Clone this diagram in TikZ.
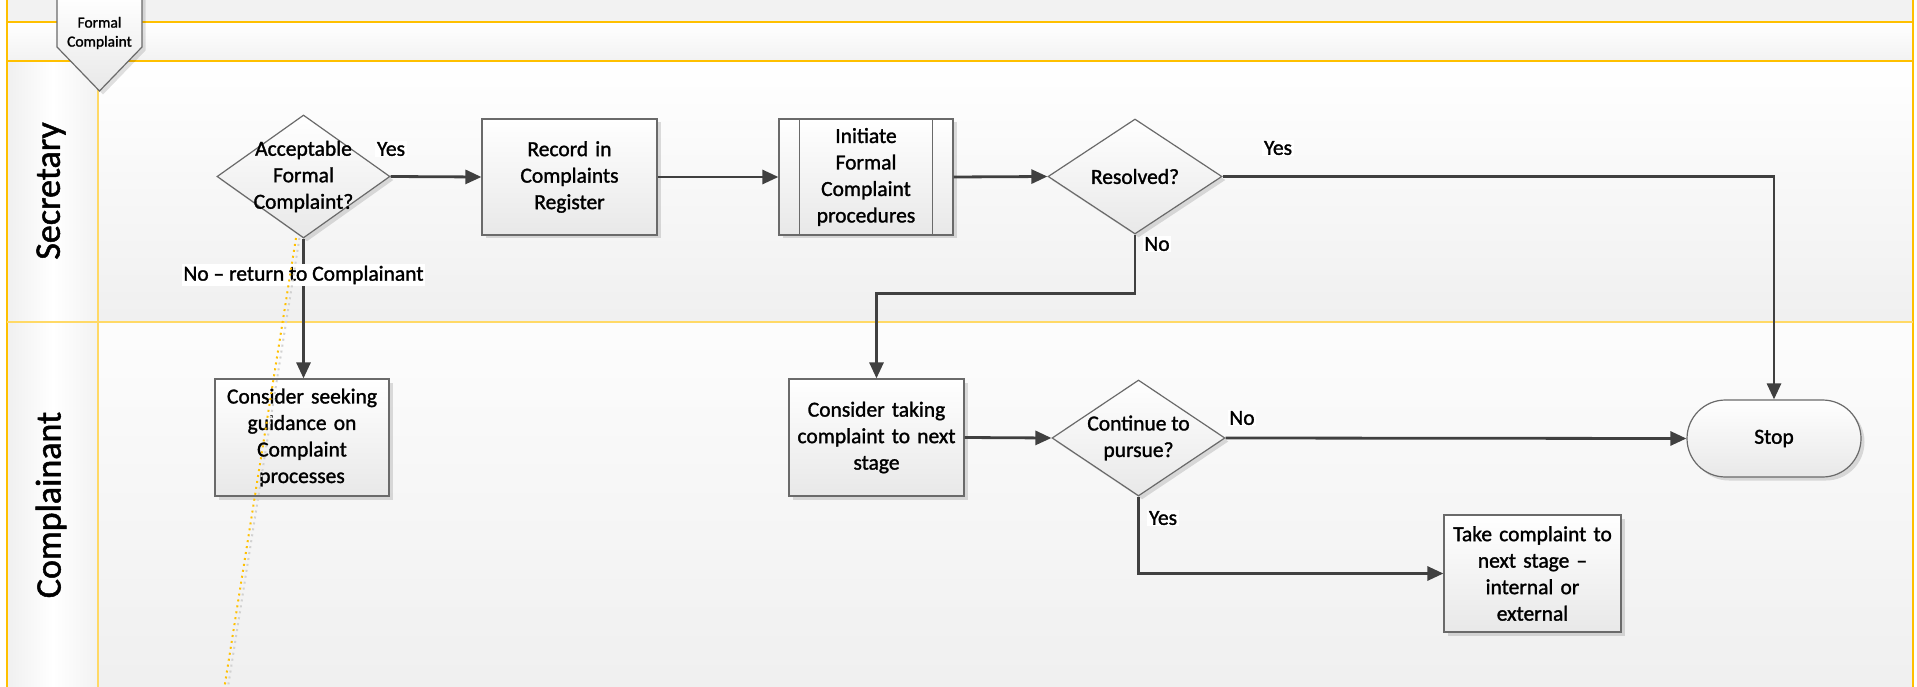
\documentclass[tikz,border=0pt]{standalone}
\usepackage{fontspec}
\setmainfont{Carlito}[FakeBold=1.4]
\usetikzlibrary{arrows.meta,shapes.geometric,shapes.misc,shadows}
\definecolor{lanegold}{HTML}{FFC000}
\definecolor{lanelight}{HTML}{FFD966}
\definecolor{arrowgray}{HTML}{404040}
\definecolor{edgegray}{HTML}{6A6A6A}
\tikzset{
  shapebox/.style={draw=edgegray, line width=1.2pt, top color=white, bottom color=black!9,
    drop shadow={shadow xshift=3.5pt, shadow yshift=-3.5pt, fill=black, opacity=0.13},
    align=center, inner sep=0pt},
  procbox/.style={shapebox, rectangle, text width=165pt, minimum width=175pt, minimum height=116pt},
  decision/.style={shapebox, diamond, inner sep=-30pt},
  terminal/.style={shapebox, rounded rectangle, minimum width=174pt, minimum height=77pt},
  flow/.style={draw=arrowgray, line width=2.8pt, -{Triangle[length=16pt,width=14pt]}},
  flowlabel/.style={fill=white, inner sep=1.5pt},
  lanetitle/.style={rotate=90, font=\fontsize{36}{42}\selectfont},
}
\begin{document}
\begin{tikzpicture}[x=1pt, y=-1pt, font=\fontsize{21.5}{26.5}\selectfont]
\useasboundingbox (0,0) rectangle (1917,687);
% backgrounds
\fill[black!5] (7,0) rectangle (1913,22);
\shade[top color=white, bottom color=black!5] (7,22) rectangle (1913,61);
\shade[top color=white, bottom color=black!6] (98,61) rectangle (1913,322);
\shade[top color=black!1, bottom color=black!6] (98,322) rectangle (1913,687);
\shade[left color=black!6, right color=black!5, middle color=white] (7,61) rectangle (98,322);
\shade[left color=black!6, right color=black!5, middle color=white] (7,322) rectangle (98,687);
% lane lines
\draw[lanegold, line width=2pt] (7,22) -- (1913,22);
\draw[lanegold, line width=2pt] (7,61) -- (1913,61);
\draw[lanegold, line width=2.4pt] (1913,0) -- (1913,687);
\draw[lanegold, line width=1.3pt] (7,0) -- (7,687);
\draw[lanelight, line width=1.3pt] (98,61) -- (98,687);
\draw[lanelight, line width=1.3pt] (7,322) -- (1913,322);
% lane titles
\node[lanetitle] (sec) at (51,191) {Secretary};
\node[lanetitle] (cmp) at (51,505) {Complainant};
% off-page connector
\fill[black, opacity=0.12] (60.5,-5) -- (60.5,50.5) -- (103,94.5) -- (145.5,50.5) -- (145.5,-5) -- cycle;
\draw[edgegray, line width=1.2pt, top color=white, bottom color=black!9] (57,-5) -- (57,47) -- (99.5,91) -- (142,47) -- (142,-5) -- cycle;
\node[align=center, font=\fontsize{15.5}{19}\selectfont] (fc) at (99.5,33) {Formal\\Complaint};
% nodes
\node[decision, minimum width=173pt, minimum height=123pt] (acc) at (303.5,176.5) {Acceptable\\Formal\\Complaint?};
\node[procbox] (rec) at (569.5,177) {Record in\\Complaints\\Register};
\node[procbox, minimum width=174pt] (proc) at (866,177) {Initiate\\Formal\\Complaint\\procedures};
\draw[edgegray, line width=1.2pt] ([xshift=21pt]proc.north west) -- ([xshift=21pt]proc.south west);
\draw[edgegray, line width=1.2pt] ([xshift=-21pt]proc.north east) -- ([xshift=-21pt]proc.south east);
\node[decision, minimum width=174pt, minimum height=115pt] (res) at (1135,176.5) {Resolved?};
\node[procbox, minimum width=174pt, minimum height=117pt] (seek) at (302,437.5) {Consider seeking\\guidance on\\Complaint\\processes};
\node[procbox, minimum height=117pt] (take) at (876.5,437.5) {Consider taking\\complaint to next\\stage};
\node[decision, minimum width=173pt, minimum height=116pt] (cont) at (1138.5,438) {Continue to\\pursue?};
\node[terminal] (stop) at (1774,438.5) {Stop};
\node[procbox, minimum width=177pt, minimum height=117pt] (next) at (1532.5,573.5) {Take complaint to\\next stage --\\internal or\\external};
% connectors
\draw[flow] (acc.east) -- (rec.west);
\draw[flow] (acc.south) -- node[flowlabel, pos=0.26] (nolbl) {No -- return to Complainant} (acc.south |- seek.north);
\draw[flow] (rec.east) -- (proc.west);
\draw[flow] (proc.east) -- (res.west);
\draw[flow] (res.east) -| (stop.north);
\draw[flow] (res.south) -- ++(0,59) -| (take.north);
\draw[flow] (take.east) -- (cont.west);
\draw[flow] (cont.east) -- (stop.west);
\draw[flow] (cont.south) |- (next.west);
% labels
\node[flowlabel] (y1) at (391,149) {Yes};
\node[flowlabel] (y2) at (1278,148) {Yes};
\node[flowlabel] (n2) at (1157,244) {No};
\node[flowlabel] (n3) at (1242,418) {No};
\node[flowlabel] (y3) at (1163,518) {Yes};
% dotted guide
\coordinate (dotA) at (296,238);
\coordinate (dotB) at (224,690);
\draw[black!18, line width=2pt, dash pattern=on 2pt off 4pt] ([xshift=3.5pt]dotA) -- ([xshift=3.5pt]dotB);
\draw[lanegold, line width=2pt, dash pattern=on 2pt off 4pt] (dotA) -- (dotB);
\end{tikzpicture}
\end{document}
